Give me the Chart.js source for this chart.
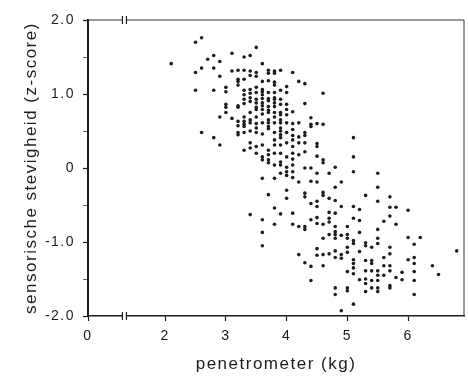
<!DOCTYPE html>
<html>
<head>
<meta charset="utf-8">
<script src="https://cdn.jsdelivr.net/npm/chart.js@4.4.1/dist/chart.umd.min.js"></script>
<style>
  html, body { margin: 0; padding: 0; background: #fff; }
  #wrap { width: 468px; height: 379px; }
</style>
</head>
<body>
<div id="wrap"><canvas id="scatter"></canvas></div>
<script>
// penetrometer columns (kg) and the sensory z-scores read at each column
const penetrometerKg = [2.1, 2.5, 2.6, 2.7, 2.8, 2.9, 3.0, 3.1, 3.2, 3.3, 3.4, 3.5, 3.6, 3.7, 3.8, 3.9,
  4.0, 4.1, 4.2, 4.3, 4.4, 4.5, 4.6, 4.7, 4.8, 4.9, 5.0, 5.1, 5.2, 5.3, 5.4, 5.5, 5.6, 5.7, 5.8, 5.9,
  6.0, 6.1, 6.2, 6.4, 6.5, 6.8];
const zScores = [
  [1.41],
  [1.70, 1.29, 1.05],
  [1.76, 1.35, 0.48],
  [1.47],
  [1.52, 1.35, 1.05, 0.41],
  [1.44, 1.24, 0.69, 0.31],
  [1.09, 1.03, 0.86, 0.82, 0.75],
  [1.55, 1.31, 0.67],
  [1.32, 1.20, 1.17, 1.12, 0.84, 0.82, 0.63, 0.57, 0.48, 0.45],
  [1.50, 1.32, 1.20, 1.05, 0.99, 0.93, 0.87, 0.69, 0.63, 0.59, 0.56, 0.48, 0.24],
  [1.52, 1.31, 1.25, 1.06, 1.01, 0.95, 0.90, 0.75, 0.65, 0.61, 0.50, 0.34, 0.27, -0.63],
  [1.63, 1.29, 1.24, 1.09, 1.02, 0.93, 0.88, 0.82, 0.79, 0.69, 0.60, 0.54, 0.48, 0.29, 0.20],
  [1.41, 1.17, 1.06, 1.03, 0.99, 0.94, 0.88, 0.84, 0.79, 0.73, 0.61, 0.46, 0.31, 0.15, 0.11, -0.14, -0.70, -0.87, -1.05],
  [1.32, 1.28, 1.18, 1.02, 0.94, 0.91, 0.83, 0.78, 0.75, 0.65, 0.61, 0.56, 0.53, 0.24, 0.18, 0.11, 0.07, -0.36],
  [1.31, 1.28, 1.16, 1.12, 1.02, 0.95, 0.93, 0.88, 0.83, 0.75, 0.69, 0.61, 0.48, 0.38, 0.31, 0.20, 0.04, -0.14, -0.54, -0.76],
  [1.32, 1.05, 0.93, 0.86, 0.75, 0.72, 0.65, 0.61, 0.54, 0.50, 0.45, 0.41, 0.31, 0.20, 0.08, 0.04, -0.07, -0.62],
  [1.10, 1.02, 0.86, 0.79, 0.72, 0.61, 0.48, 0.34, 0.15, 0.01, -0.05, -0.10, -0.30, -0.41],
  [1.29, 0.76, 0.60, 0.52, 0.44, 0.38, 0.29, 0.20, 0.12, 0.04, -0.05, -0.13, -0.61, -0.76],
  [1.17, 0.61, 0.42, 0.34, 0.18, -0.19, -0.79, -1.17],
  [1.14, 0.87, 0.48, 0.44, 0.34, 0.22, 0.00, -0.34, -0.39, -0.79, -0.83, -1.28],
  [0.68, 0.59, 0.56, 0.00, -0.18, -0.48, -0.70, -1.33, -1.52],
  [0.60, 0.33, 0.29, 0.16, -0.07, -0.19, -0.45, -0.52, -0.67, -0.75, -1.09, -1.18],
  [1.01, 0.59, 0.11, 0.07, -0.33, -0.37, -0.76, -0.95, -1.17, -1.32],
  [-0.07, -0.41, -0.60, -0.68, -0.73, -0.90, -1.16],
  [0.01, -0.26, -0.44, -0.61, -0.79, -0.86, -0.90, -0.95, -1.12, -1.21, -1.62, -1.71],
  [-0.19, -0.52, -0.91, -1.17, -1.22, -1.93],
  [-0.79, -0.90, -0.95, -1.07, -1.14, -1.40, -1.62, -1.66],
  [0.41, 0.15, -0.05, -0.52, -0.68, -0.98, -1.02, -1.24, -1.29, -1.35, -1.43, -1.84],
  [-0.56, -0.71, -0.87, -1.13, -1.51],
  [-0.37, -1.01, -1.05, -1.25, -1.39, -1.50, -1.56, -1.67],
  [-1.07, -1.25, -1.29, -1.39, -1.52, -1.62],
  [-0.07, -0.26, -0.45, -0.83, -0.95, -1.02, -1.39, -1.45, -1.52, -1.62, -1.67],
  [-0.72, -1.21, -1.32, -1.45],
  [-0.39, -0.53, -0.65, -1.07, -1.16, -1.32, -1.39, -1.59, -1.62],
  [-0.53, -0.76, -1.48],
  [-1.41, -1.51],
  [-0.57, -0.94, -1.24],
  [-1.03, -1.21, -1.29, -1.40, -1.52, -1.71],
  [-0.94],
  [-1.32],
  [-1.44],
  [-1.12]
];

// broken x axis: "0" sits at the left end, the break lies between it and 2
const xOrigin = 0.73;
const xBreakAt = 1.33;
const xMax = 6.92;
const xTicks = [xOrigin, 2, 3, 4, 5, 6];
const xTickLabels = ['0', '2', '3', '4', '5', '6'];
const yTicks = [-2, -1.5, -1, -0.5, 0, 0.5, 1, 1.5, 2];
const yTickLabels = ['-2.0', '', '-1.0', '', '0', '', '1.0', '', '2.0'];

const ink = '#1c1c1c';
const font = 'Liberation Sans, Arial, Helvetica, sans-serif';

const frameAndBreaks = {
  id: 'frameAndBreaks',
  beforeDraw(chart) {
    chart.ctx.letterSpacing = '1.5px';
  },
  afterDraw(chart) {
    const { ctx, chartArea: a, scales: { x } } = chart;
    const bx = x.getPixelForValue(xBreakAt);
    ctx.save();
    ctx.strokeStyle = '#333';
    ctx.lineWidth = 1;
    ctx.beginPath();
    ctx.moveTo(a.left, a.top);
    ctx.lineTo(a.right, a.top);
    ctx.lineTo(a.right, a.bottom);
    ctx.stroke();
    ctx.strokeStyle = ink;
    ctx.lineWidth = 1.2;
    [a.top, a.bottom].forEach(y => {
      ctx.fillStyle = '#fff';
      ctx.fillRect(bx - 1.5, y - 2, 3, 4);
      ctx.beginPath();
      ctx.moveTo(bx - 2, y - 4); ctx.lineTo(bx - 2, y + 4);
      ctx.moveTo(bx + 2, y - 4); ctx.lineTo(bx + 2, y + 4);
      ctx.stroke();
    });
    ctx.restore();
  }
};

const points = penetrometerKg.flatMap((x, i) => zScores[i].map(y => ({ x, y })));

new Chart(document.getElementById('scatter'), {
  type: 'scatter',
  data: {
    datasets: [{
      data: points,
      pointRadius: 1.8,
      pointBackgroundColor: ink,
      pointBorderWidth: 0
    }]
  },
  options: {
    responsive: true,
    maintainAspectRatio: false,
    animation: false,
    layout: { padding: { top: 20, right: 4, left: 0, bottom: 0 } },
    plugins: { legend: { display: false }, tooltip: { enabled: false } },
    scales: {
      x: {
        type: 'linear',
        min: xOrigin,
        max: xMax,
        afterBuildTicks: s => { s.ticks = xTicks.map(v => ({ value: v })); },
        afterFit: s => { s.height = 63; },
        border: { display: true, color: ink, width: 1.4 },
        grid: { drawOnChartArea: false, drawTicks: true, tickLength: 5, color: ink, tickWidth: 1.2 },
        ticks: {
          autoSkip: false, maxRotation: 0, padding: 7, color: ink,
          font: { family: font, size: 14 },
          callback: (v, i) => xTickLabels[i]
        },
        title: {
          display: true, text: 'penetrometer (kg)', color: ink,
          font: { family: font, size: 17 },
          padding: { top: 0, bottom: 4 }
        }
      },
      y: {
        type: 'linear',
        min: -2,
        max: 2,
        afterBuildTicks: s => { s.ticks = yTicks.map(v => ({ value: v })); },
        afterFit: s => { s.width = 88; },
        border: { display: true, color: ink, width: 2 },
        grid: {
          drawOnChartArea: false, drawTicks: true, tickLength: 5, color: ink,
          tickWidth: c => (Number.isInteger(c.tick.value) ? 1.2 : 0.7)
        },
        ticks: {
          autoSkip: false, padding: 8, color: ink,
          font: { family: font, size: 14 },
          callback: (v, i) => yTickLabels[i]
        },
        title: {
          display: true, text: 'sensorische stevigheid (z-score)', color: ink,
          font: { family: font, size: 17 },
          padding: { top: 21, bottom: 0 }
        }
      }
    }
  },
  plugins: [frameAndBreaks]
});
</script>
</body>
</html>
